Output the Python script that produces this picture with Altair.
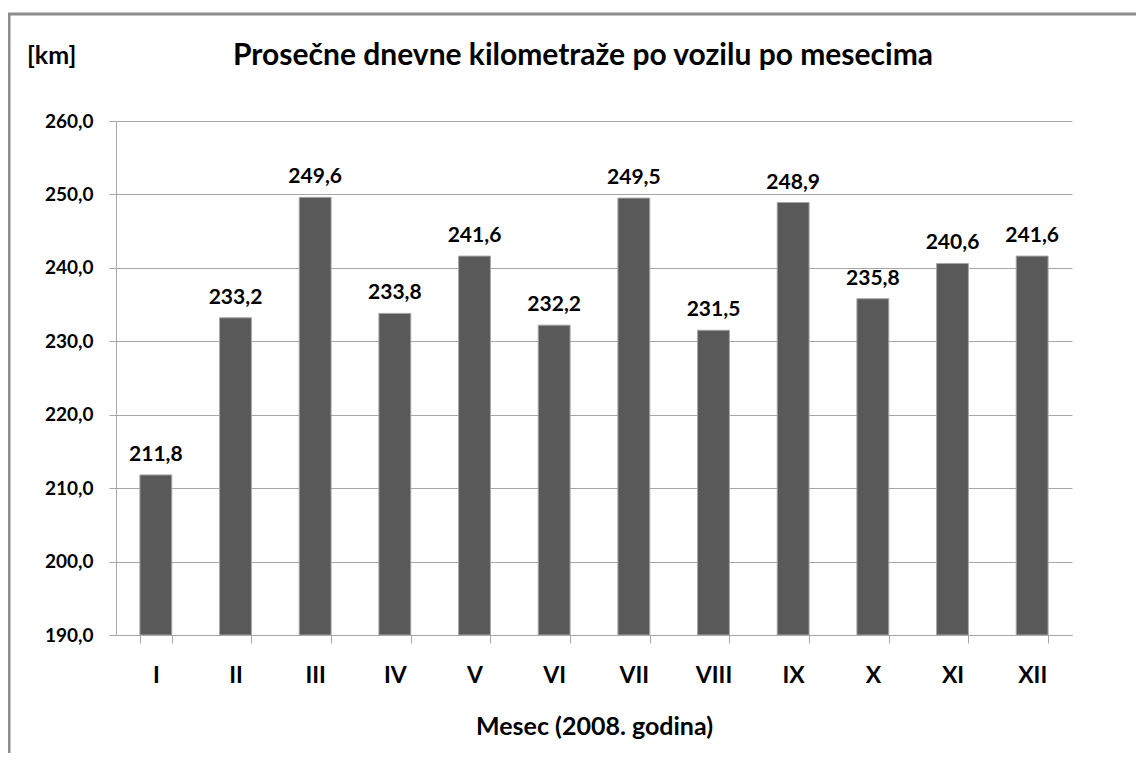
import altair as alt
import pandas as pd

months = ["I", "II", "III", "IV", "V", "VI", "VII", "VIII", "IX", "X", "XI", "XII"]
values = [211.8, 233.2, 249.6, 233.8, 241.6, 232.2, 249.5, 231.5, 248.9, 235.8, 240.6, 241.6]
y_ticks = [190, 200, 210, 220, 230, 240, 250, 260]
title_text = "Prosečne dnevne kilometraže po vozilu po mesecima"
unit_text = "[km]"
x_title = "Mesec (2008. godina)"

FONT = "Lato"
df = pd.DataFrame({"mesec": months, "km": values})

x_enc = alt.X(
    "mesec:N", sort=months,
    scale=alt.Scale(paddingInner=0.6, paddingOuter=0.3),
    axis=alt.Axis(
        title=x_title, titleFontSize=25, titleFontWeight=700, titleFont=FONT,
        titlePadding=27, titleColor="black",
        labelAngle=0, labelFontSize=23, labelFontWeight=700, labelFont=FONT, labelColor="black",
        labelPadding=21, tickBand="extent", tickSize=8, tickColor="#a6a6a6",
        domainColor="#a6a6a6", grid=False,
    ),
)
y_enc = alt.Y(
    "km:Q",
    scale=alt.Scale(domain=[190, 260], nice=False, zero=False),
    axis=alt.Axis(
        values=y_ticks, title=None,
        labelExpr="replace(format(datum.value, '.1f'), '.', ',')",
        labelFontSize=19, labelFontWeight=700, labelFont=FONT, labelColor="black",
        labelPadding=16, tickSize=7, tickColor="#a6a6a6", domainColor="#a6a6a6",
        grid=True, gridColor="#a6a6a6", gridWidth=1,
    ),
)

bars = alt.Chart(df).mark_bar(color="#595959", stroke="#a6a6a6", strokeWidth=1).encode(
    x=x_enc, y=y_enc, y2=alt.datum(190)
)

labels = alt.Chart(df).transform_calculate(
    lbl="replace(format(datum.km, '.1f'), '.', ',')"
).mark_text(
    font=FONT, fontSize=21, fontWeight=700, color="black", baseline="bottom", dy=-10
).encode(x=alt.X("mesec:N", sort=months), y="km:Q", text="lbl:N")

frame_df = pd.DataFrame({"a": [0]})
top_border = alt.Chart(frame_df).mark_rule(color="#8c8c8c", strokeWidth=3).encode(
    x=alt.value(-108), x2=alt.value(1100), y=alt.value(-107)
)
left_border = alt.Chart(frame_df).mark_rule(color="#8c8c8c", strokeWidth=3).encode(
    x=alt.value(-107), y=alt.value(-107), y2=alt.value(700)
)
title_mark = alt.Chart(frame_df).mark_text(
    text=title_text, font=FONT, fontSize=30, fontWeight=700, color="black",
    align="center", baseline="middle"
).encode(x=alt.value(467), y=alt.value(-65))
unit_mark = alt.Chart(frame_df).mark_text(
    text=unit_text, font=FONT, fontSize=25, fontWeight=700, color="black",
    align="left", baseline="middle"
).encode(x=alt.value(-89), y=alt.value(-65))

chart = alt.layer(bars, labels, top_border, left_border, title_mark, unit_mark).properties(
    width=956, height=514,
    autosize=alt.AutoSizeParams(type="none"),
    padding={"left": 108, "top": 113, "right": 64, "bottom": 118},
).configure_view(stroke=None)

chart.save("out.html", embed_options={"renderer": "svg", "actions": False})
